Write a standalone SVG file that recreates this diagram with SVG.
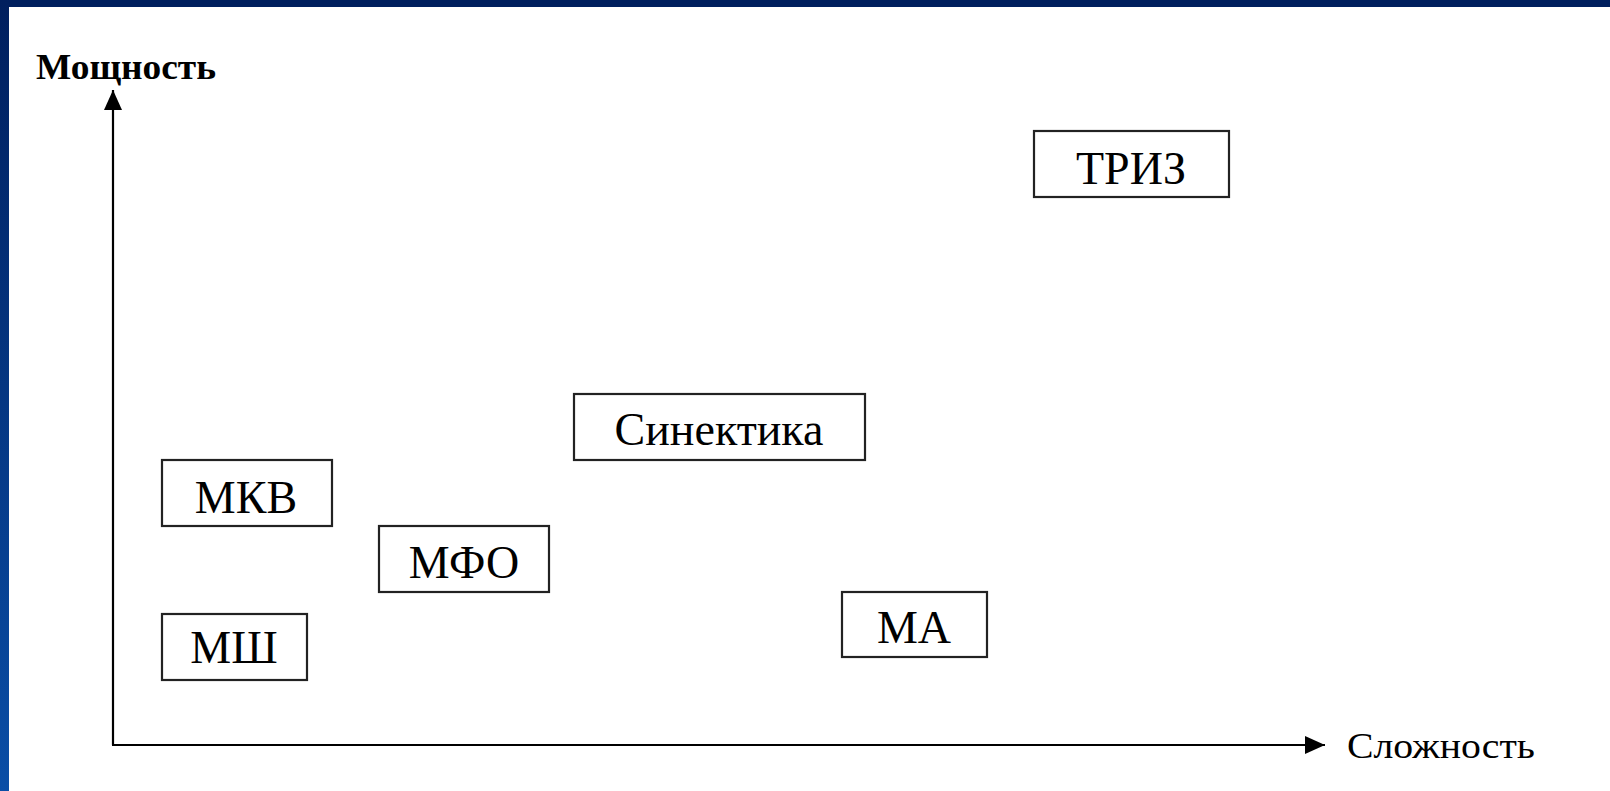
<svg xmlns="http://www.w3.org/2000/svg" width="1610" height="791" viewBox="0 0 1610 791">
<defs>
<linearGradient id="leftbar" x1="0" y1="0" x2="0" y2="1">
<stop offset="0" stop-color="#001f5e"/>
<stop offset="1" stop-color="#0a4ea6"/>
</linearGradient>
<marker id="arr" markerUnits="userSpaceOnUse" markerWidth="22" markerHeight="20" refX="20" refY="9" orient="auto">
<path d="M0,0 L20,9 L0,18 Z" fill="#000"/>
</marker>
<style>
.box{fill:#fff;stroke:#222;stroke-width:2.2}
.lbl{font-family:"Liberation Serif","Times New Roman",serif;font-size:46px;fill:#000;text-anchor:middle}
.ax{font-family:"Liberation Serif","Times New Roman",serif;font-size:35px;fill:#000}
.axis{stroke:#000;stroke-width:2.2;fill:none}
</style>
</defs>
<rect x="0" y="0" width="1610" height="791" fill="#fff"/>
<rect x="0" y="0" width="1610" height="7" fill="#001f5e"/>
<rect x="0" y="0" width="9" height="791" fill="url(#leftbar)"/>
<g id="connectors">
<path class="axis" d="M113,745 L113,90" marker-end="url(#arr)"/>
<path class="axis" d="M112,745 L1325,745" marker-end="url(#arr)"/>
</g>
<g id="axis-y-label"><text class="ax" x="36" y="79" font-weight="bold" textLength="180" lengthAdjust="spacingAndGlyphs">Мощность</text></g>
<g id="axis-x-label"><text class="ax" x="1347" y="758" textLength="188" lengthAdjust="spacingAndGlyphs">Сложность</text></g>
<g id="node-triz"><rect class="box" x="1034" y="131" width="195" height="66"/><text class="lbl" x="1131" y="184">ТРИЗ</text></g>
<g id="node-sinektika"><rect class="box" x="574" y="394" width="291" height="66"/><text class="lbl" x="719" y="445">Синектика</text></g>
<g id="node-mkv"><rect class="box" x="162" y="460" width="170" height="66"/><text class="lbl" x="246" y="513">МКВ</text></g>
<g id="node-mfo"><rect class="box" x="379" y="526" width="170" height="66"/><text class="lbl" x="464" y="578">МФО</text></g>
<g id="node-msh"><rect class="box" x="162" y="614" width="145" height="66"/><text class="lbl" x="234" y="663">МШ</text></g>
<g id="node-ma"><rect class="box" x="842" y="592" width="145" height="65"/><text class="lbl" x="914" y="643">МА</text></g>
</svg>
